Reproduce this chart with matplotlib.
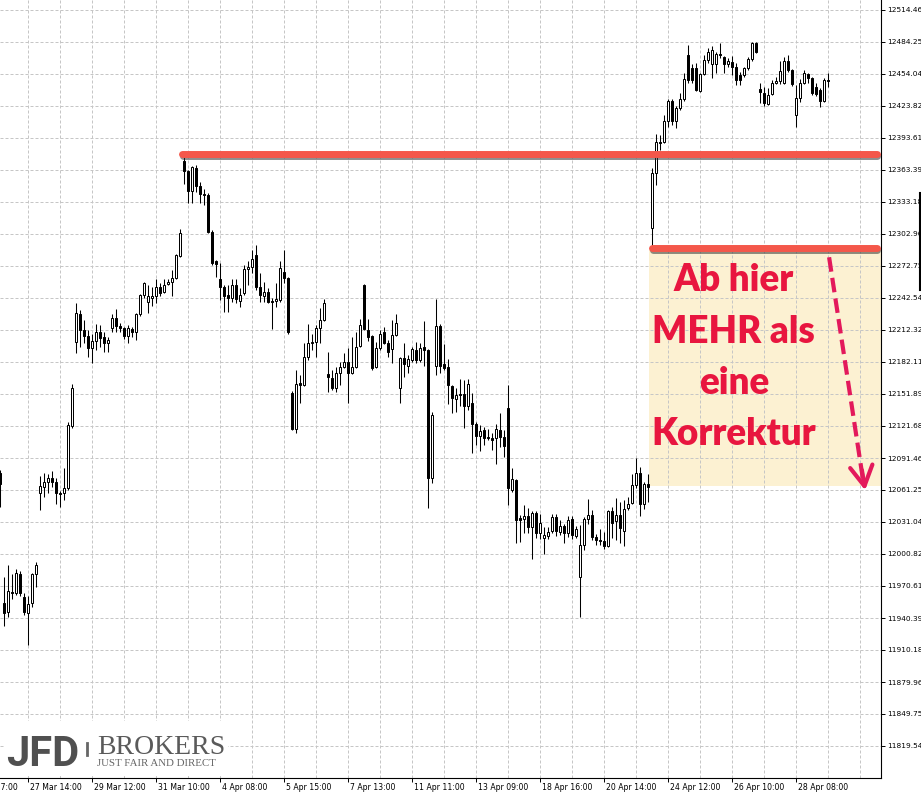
import numpy as np
import matplotlib
matplotlib.use("Agg")
import matplotlib.pyplot as plt
import matplotlib.patheffects as pe
from matplotlib.patches import Rectangle
from matplotlib.lines import Line2D

# OHLC of the bars, the first one sits half outside the left edge
opens = [
    12077,
    11955, 11946, 11965, 11964, 11982, 11960, 11945, 11955, 11982,
    12058, 12064, 12069, 12073, 12069, 12058, 12058, 12063, 12122,
    12201, 12227, 12212, 12207, 12195, 12202, 12210, 12206, 12200,
    12214, 12224, 12216, 12214, 12207, 12213, 12210, 12227, 12245,
    12239, 12243, 12244, 12253, 12248, 12256, 12258, 12261, 12282,
    12372, 12362, 12344, 12365, 12348, 12341, 12340, 12305, 12277,
    12260, 12253, 12245, 12243, 12255, 12240, 12247, 12270, 12272,
    12283, 12253, 12244, 12248, 12240, 12240, 12241, 12267, 12261,
    12153, 12119, 12162, 12160, 12187, 12200, 12201, 12214, 12222,
    12171, 12167, 12158, 12172, 12177, 12182, 12172, 12177, 12197,
    12255, 12212, 12207, 12177, 12195, 12210, 12200, 12194, 12208,
    12158, 12186, 12178, 12184, 12193, 12184, 12196, 12193, 12073,
    12178, 12216, 12180, 12177, 12159, 12147, 12152, 12152, 12141,
    12143, 12124, 12112, 12118, 12111, 12110, 12110, 12118, 12111,
    12139, 12061, 12071, 12035, 12034, 12037, 12026, 12040, 12021,
    12016, 12018, 12023, 12036, 12022, 12027, 12021, 12034, 12018,
    11979, 12009, 12034, 12038, 12017, 12014, 12013, 12008, 12041,
    12032, 12038, 12023, 12044, 12049, 12066, 12077, 12048, 12067,
    12309, 12361, 12390, 12390, 12410, 12429, 12410, 12422, 12430,
    12472, 12460, 12460, 12438, 12454, 12467, 12463, 12463, 12473,
    12470, 12463, 12465, 12461, 12453, 12453, 12460, 12468, 12483,
    12440, 12436, 12426, 12435, 12446, 12447, 12446, 12466, 12458,
    12415, 12431, 12446, 12454, 12450, 12442, 12439, 12429, 12448,
]
highs = [
    12080,
    11979, 11990, 11982, 11987, 11985, 11964, 11961, 11983, 11993,
    12074, 12077, 12076, 12079, 12073, 12060, 12082, 12125, 12161,
    12238, 12231, 12222, 12212, 12209, 12218, 12217, 12210, 12206,
    12227, 12232, 12219, 12215, 12217, 12215, 12228, 12246, 12258,
    12255, 12253, 12260, 12257, 12260, 12260, 12269, 12284, 12308,
    12376, 12363, 12367, 12368, 12352, 12345, 12342, 12307, 12278,
    12276, 12255, 12255, 12260, 12260, 12252, 12274, 12277, 12288,
    12293, 12266, 12258, 12252, 12243, 12257, 12277, 12288, 12262,
    12155, 12175, 12170, 12200, 12218, 12209, 12217, 12233, 12242,
    12192, 12175, 12177, 12182, 12191, 12195, 12206, 12210, 12223,
    12256, 12223, 12208, 12201, 12212, 12215, 12203, 12222, 12227,
    12187, 12200, 12189, 12196, 12201, 12200, 12221, 12194, 12135,
    12242, 12218, 12199, 12185, 12160, 12158, 12166, 12165, 12166,
    12153, 12125, 12123, 12121, 12119, 12115, 12124, 12134, 12118,
    12160, 12082, 12072, 12038, 12047, 12044, 12041, 12041, 12039,
    12026, 12026, 12039, 12039, 12033, 12029, 12037, 12037, 12027,
    12028, 12036, 12053, 12042, 12020, 12024, 12022, 12042, 12045,
    12054, 12050, 12052, 12055, 12076, 12091, 12083, 12069, 12076,
    12365, 12397, 12396, 12415, 12430, 12430, 12424, 12436, 12455,
    12481, 12463, 12464, 12455, 12472, 12479, 12480, 12475, 12483,
    12471, 12469, 12471, 12464, 12456, 12461, 12470, 12484, 12484,
    12446, 12442, 12441, 12448, 12451, 12466, 12470, 12472, 12459,
    12444, 12449, 12458, 12455, 12451, 12446, 12441, 12450, 12455,
]
lows = [
    12045,
    11933, 11941, 11958, 11962, 11961, 11943, 11915, 11951, 11970,
    12042, 12055, 12058, 12064, 12048, 12045, 12052, 12061, 12120,
    12191, 12196, 12200, 12187, 12181, 12193, 12196, 12192, 12192,
    12210, 12210, 12210, 12204, 12200, 12206, 12203, 12226, 12243,
    12228, 12235, 12238, 12244, 12247, 12255, 12244, 12260, 12281,
    12350, 12332, 12332, 12343, 12332, 12330, 12304, 12274, 12262,
    12241, 12229, 12229, 12239, 12238, 12234, 12245, 12255, 12266,
    12250, 12239, 12239, 12238, 12213, 12234, 12239, 12257, 12209,
    12118, 12115, 12143, 12159, 12184, 12193, 12187, 12200, 12221,
    12154, 12156, 12154, 12160, 12176, 12143, 12171, 12176, 12196,
    12212, 12202, 12175, 12176, 12193, 12199, 12187, 12181, 12207,
    12143, 12168, 12172, 12182, 12181, 12182, 12178, 12044, 12068,
    12170, 12172, 12175, 12142, 12134, 12135, 12141, 12120, 12137,
    12096, 12104, 12098, 12104, 12108, 12099, 12086, 12102, 12092,
    12047, 12059, 12011, 12012, 12021, 12021, 11996, 12016, 12015,
    12001, 12015, 12021, 12018, 12019, 12011, 12017, 12015, 12016,
    11941, 12005, 12029, 12014, 12009, 12009, 12006, 12007, 12016,
    12014, 12011, 12008, 12042, 12048, 12063, 12037, 12043, 12050,
    12290, 12349, 12382, 12389, 12404, 12406, 12403, 12420, 12429,
    12446, 12446, 12438, 12437, 12453, 12464, 12450, 12455, 12469,
    12455, 12461, 12453, 12444, 12444, 12451, 12458, 12466, 12474,
    12427, 12424, 12425, 12434, 12445, 12445, 12445, 12456, 12443,
    12404, 12428, 12445, 12446, 12434, 12433, 12423, 12428, 12442,
]
closes = [
    12067,
    11945, 11966, 11964, 11983, 11964, 11946, 11954, 11982, 11990,
    12065, 12069, 12073, 12069, 12058, 12057, 12063, 12123, 12158,
    12228, 12212, 12207, 12195, 12202, 12210, 12205, 12200, 12203,
    12224, 12216, 12214, 12207, 12214, 12210, 12227, 12245, 12257,
    12244, 12244, 12253, 12247, 12255, 12258, 12261, 12283, 12304,
    12362, 12344, 12366, 12348, 12341, 12340, 12305, 12276, 12275,
    12253, 12244, 12243, 12255, 12242, 12245, 12270, 12272, 12279,
    12253, 12245, 12248, 12239, 12239, 12242, 12271, 12261, 12210,
    12119, 12161, 12160, 12187, 12200, 12201, 12214, 12222, 12238,
    12168, 12158, 12172, 12177, 12182, 12172, 12177, 12196, 12217,
    12213, 12206, 12176, 12195, 12209, 12200, 12192, 12208, 12219,
    12186, 12180, 12185, 12194, 12184, 12195, 12193, 12073, 12132,
    12216, 12178, 12176, 12160, 12148, 12151, 12151, 12141, 12161,
    12124, 12112, 12117, 12110, 12110, 12108, 12119, 12111, 12103,
    12063, 12072, 12033, 12033, 12037, 12026, 12040, 12021, 12030,
    12019, 12022, 12036, 12023, 12027, 12021, 12033, 12019, 12024,
    12009, 12034, 12038, 12017, 12014, 12013, 12008, 12041, 12030,
    12038, 12025, 12043, 12048, 12066, 12077, 12048, 12067, 12064,
    12361, 12390, 12389, 12410, 12429, 12410, 12422, 12430, 12449,
    12448, 12448, 12439, 12454, 12467, 12475, 12477, 12473, 12472,
    12463, 12466, 12461, 12448, 12448, 12460, 12468, 12483, 12475,
    12437, 12427, 12434, 12446, 12447, 12457, 12466, 12458, 12445,
    12431, 12446, 12455, 12450, 12436, 12435, 12429, 12448, 12447,
]

price_ticks = [11819.54, 11849.75, 11879.96, 11910.18, 11940.39, 11970.61,
               12000.82, 12031.04, 12061.25, 12091.46, 12121.68, 12151.89,
               12182.11, 12212.32, 12242.54, 12272.75, 12302.96, 12333.18,
               12363.39, 12393.61, 12423.82, 12454.04, 12484.25, 12514.46]

date_pos = [-10, 6, 22, 38, 54, 70, 86, 102, 118, 134, 150, 166, 182, 198]
date_labels = ["24 Mar 17:00", "27 Mar 14:00", "29 Mar 12:00", "31 Mar 10:00",
               "4 Apr 08:00", "5 Apr 15:00", "7 Apr 13:00", "11 Apr 11:00",
               "13 Apr 09:00", "18 Apr 16:00", "20 Apr 14:00", "24 Apr 12:00",
               "26 Apr 10:00", "28 Apr 08:00"]
grid_pos = list(range(-2, 219, 8))

# annotation levels
resistance = 12378.5
gap_low = lows[163]
box_top, box_bottom = 12288, 12065
note_lines = ["Ab hier", "MEHR als", "eine", "Korrektur"]
note_base = [12249, 12200, 12152, 12104]

bar_idx = np.arange(-1, len(opens) - 1)
o = np.array(opens, float)
h = np.array(highs, float)
l = np.array(lows, float)
c = np.array(closes, float)
up = c >= o

fig = plt.figure(figsize=(9.21, 7.96), dpi=100)
ax = fig.add_axes([0, 18 / 796, 881 / 921, 778 / 796])

# grid
for p in price_ticks:
    ax.axhline(p, color='#c6c6c6', lw=0.72, dashes=(3, 2), zorder=1)
for g in grid_pos:
    ax.axvline(g, color='#c6c6c6', lw=0.72, dashes=(3, 2), zorder=1)

# yellow note box
ax.add_patch(Rectangle((161.4, box_bottom), 60, box_top - box_bottom,
                       facecolor='#fcf1d2', edgecolor='none', zorder=0.5))

# candles
ax.vlines(bar_idx, l, h, color='black', lw=0.75, zorder=2)
ax.bar(bar_idx, c - o, bottom=o, width=0.5,
       color=np.where(up, 'white', 'black'), edgecolor='black',
       linewidth=0.72, zorder=3)

# red levels
shadow = [pe.SimpleLineShadow(offset=(0.6, -1.6), shadow_color='#333333', alpha=0.55),
          pe.Normal()]
ax.plot([44.6, 218.25], [resistance, resistance], color='#f4574a', lw=5,
        solid_capstyle='round', zorder=5, path_effects=shadow)
ax.plot([162.1, 218.25], [gap_low, gap_low], color='#f4574a', lw=5,
        solid_capstyle='round', zorder=5, path_effects=shadow)

# note text
for txt, yb in zip(note_lines, note_base):
    ax.text(182.6, yb, txt, ha='center', va='baseline', fontsize=26.5,
            family='Lato', fontweight='heavy', color='#e8163f', zorder=6)

# dashed arrow
ax.plot([206.4, 215.0], [12281, 12068], color='#e3195b', lw=3,
        dashes=(3.5, 1.5), zorder=6)
ax.annotate('', xy=(215.4, 12061), xytext=(214.6, 12080),
            arrowprops=dict(arrowstyle='->,head_length=0.8,head_width=0.45',
                            lw=3, color='#e3195b', mutation_scale=18,
                            shrinkA=0, shrinkB=0), zorder=6)

# axes cosmetics
for s in ['left', 'top']:
    ax.spines[s].set_visible(False)
for s in ['right', 'bottom']:
    ax.spines[s].set_linewidth(0.8)
ax.yaxis.tick_right()
ax.set_yticks(price_ticks)
ax.set_yticklabels([f"{p:.2f}" for p in price_ticks])
ax.tick_params(axis='y', direction='out', length=3, width=0.7, pad=1.2, labelsize=5.3)
ax.set_xticks(date_pos)
ax.set_xticklabels([''] * len(date_pos))
ax.tick_params(axis='x', direction='out', length=3, width=0.7)
# limits after the ticks, so the ticks don't widen the view
ax.set_xlim(-0.875, 219.375)
ax.set_ylim(11789.32, 12523.90)
for pos, lbl in zip(date_pos, date_labels):
    ax.annotate(lbl, xy=(pos, 0), xycoords=('data', 'axes fraction'),
                xytext=(2, -4.5), textcoords='offset pixels', ha='left', va='top',
                fontsize=5.6, annotation_clip=False)

# bit of price marker cut at the right edge
fig.add_artist(Line2D([920 / 921, 920 / 921], [1 - 193 / 796, 1 - 290 / 796],
                      color='black', lw=1.5))

# JFD logo
fig.add_artist(Rectangle((4 / 921, 1 - 776 / 796), 224 / 921, 55 / 796,
                         transform=fig.transFigure, facecolor='white',
                         edgecolor='none', zorder=3))
fig.text(6 / 921, 1 - 766 / 796, "JFD", fontsize=30, family='Roboto',
         fontweight='bold', color='#505050', va='baseline', zorder=4)
fig.add_artist(Line2D([87 / 921, 87 / 921], [1 - 743 / 796, 1 - 755 / 796],
                      color='#666666', lw=2, zorder=4))
fig.text(97 / 921, 1 - 754 / 796, "BROKERS", fontsize=20, family='Liberation Serif',
         color='#5a5a5a', va='baseline', zorder=4)
fig.text(97 / 921, 1 - 766 / 796, "JUST FAIR AND DIRECT", fontsize=7.8,
         family='Liberation Serif', color='#666666', va='baseline', zorder=4)

fig.savefig('out.png', dpi=100)
